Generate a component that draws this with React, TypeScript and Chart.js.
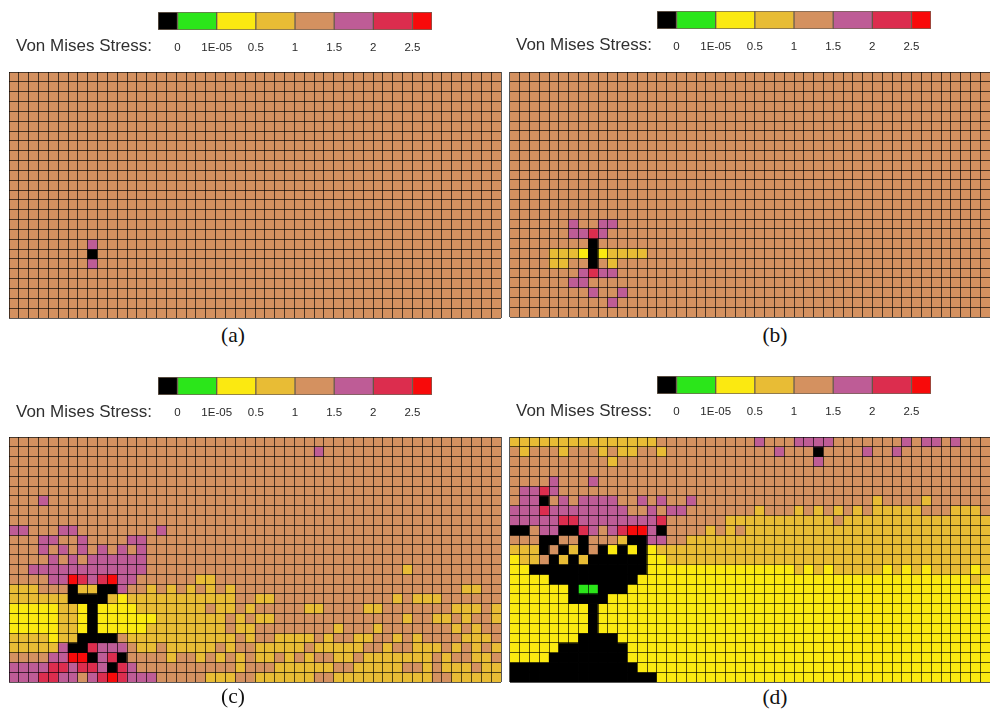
import React, { useEffect, useRef } from "react";
import { Chart, registerables } from "chart.js";

Chart.register(...registerables);

// Stress levels, lowest first
const levelKeys = ["k", "g", "y", "o", "b", "p", "c", "r"];
const levelColors = ["#000000", "#2BE61A", "#FBE911", "#E8BC35", "#D49160", "#BE5C96", "#DC2D4E", "#F80A0A"];
const legendWidths = [0.5, 1, 1, 1, 1, 1, 1, 0.5];
const legendTicks = ["0", "1E-05", "0.5", "1", "1.5", "2", "2.5"];
const legendTitle = "Von Mises Stress:";

// One string per row, top to bottom; a row's last letter repeats to its end.
const panelA = [
  "", "", "", "", "", "", "", "", "", "", "", "", "", "", "", "", "",
  "bbbbbbbbpb",
  "bbbbbbbbkb",
  "bbbbbbbbpb",
  "", "", "", "", "",
];

const panelB = [
  "", "", "", "", "", "", "", "", "", "", "", "", "", "", "",
  "bbbbbbpbbp pb",
  "bbbbbbppcp b",
  "bbbbbbbbkb",
  "bbbboooyky oooob",
  "bbbboobbkb ob",
  "bbbbbbbpcp pb",
  "bbbbbbppb",
  "bbbbbbbbpb bpb",
  "bbbbbbbbbb pb",
  "",
];

const panelC = [
  "",
  "bbbbbbbbbb bbbbbbbbbb bbbbbbbbbb bpb",
  "", "", "", "",
  "bbbpb",
  "", "",
  "ppbbbppbbb bbbbbpb",
  "bbbppbbpbb bbppb",
  "bbbpbpbpbp bpbpb",
  "bbbbpbpbpp ppppb",
  "bbpppppppp ppppbbbbbb bbbbbbbbbb bbbbbbbbbb ob",
  "bbbbpprcpc rppbbbbbbo ob",
  "ooobbbkook kpbbobobob obobbbbbbb bbbbbbbbbb bbbbbboob",
  "ooooookkkk oyoooooooo ooobboobbb bbbbbbbbbo booob",
  "yyyyyooyky yyyooooooo boobobbbbb oobbbboobb bbbbbooobo",
  "yyyyyooyky yyyyyooooo ooboboobbb bbbbbbbbbb obboobobbo",
  "yyyyyooyky yyyyoooooo ooboobbbbb bbbobbbobb bbbbbobobb",
  "ooooyookkk kboooooooo ooobobbooo obobboobbo bobbbbooob",
  "ooooopkkcp ppbooboooo obobbooooo booooobbob booobobobo",
  "bbbbpprrkp ckbbbbobbo boboboobob obbooboooo ooobobboob",
  "ppppccpccp kcpbbbbbbb bbbobbbooo ooobbooooo bboboooboo",
  "pppccppbpc rcpppbbbbb ooobbooooo obbooooooo ooobboooo",
];

const panelD = [
  "oooooooooo ooooobbbbb bbbbbpbbbp pppbbbbbbb pbppbpb",
  "bobbbobbbo boobbobbbb bbbbbbbpbb bkbbbbpbbp b",
  "bbbbbbbbbb obbbbbbbbb bbbbbbbbbb bpb",
  "",
  "bbbbpbbbpb",
  "bppcpb",
  "bppkbpbppp pbbpbpbbpb bbbbbbbbbb bbbbbbbobb bbob",
  "pppcpppppp ppbbpbppbb bbbbbobbbo bobobobooo oobbbooob",
  "pppppccppp pppppcbbbb bboooooooo ooobooooo oooooooo",
  "kkbppkkcpb pcrrpkbbbb obobooo",
  "bbbkkbbkbb bokkppbboo",
  "oookbkokbk ykykyooooo",
  "yoobkokokk kkkkyyoooo",
  "yykkkkkkkk kkkkyyyyyy yyyyyyyyyo yoyoooooyo yoyooooyo",
  "yyyykkkkkk kkkyyyyyyy yyyyyyyyyy yyyyyyyyyy yyyyyyyoy",
  "yyyyyykggk kkyyyyyyyy",
  "yyyyyykkkk yyyyyyyyyy",
  "yyyyyyyyky",
  "yyyyyyyyky",
  "yyyyyyyyky",
  "yyyyyyykkk kyyyyyyyyy",
  "yyyyykkkkk kkyyyyyyyy",
  "yyyykkkkkk kkyyyyyyyy",
  "kkkkkkkkkk kkkyyyyyyy",
  "kkkkkkkkkk kkkkkyyyyy",
];

const GRID = "rgba(0,0,0,0.66)";
const F_SANS = '"Liberation Sans", Arial, sans-serif';
const F_SERIF = '"Liberation Serif", "Times New Roman", serif';

function expandRow(text: string, cols: number): string {
  const s = text.replace(/ /g, "");
  const fill = s.length ? s[s.length - 1] : "b";
  return s.padEnd(cols, fill).slice(0, cols);
}

function GridChart({ rows, cols, left, top, width, height }: any) {
  const ref = useRef<HTMLCanvasElement>(null);
  useEffect(() => {
    const labels = Array.from({ length: cols }, (_, i) => String(i));
    const datasets = rows.map((r: string) => {
      const line = expandRow(r, cols);
      return {
        data: labels.map(() => 1),
        backgroundColor: labels.map((_, i) => levelColors[levelKeys.indexOf(line[i])]),
        borderWidth: 0,
        barPercentage: 1,
        categoryPercentage: 1,
      };
    });
    const chart = new Chart(ref.current!, {
      type: "bar",
      data: { labels, datasets },
      options: {
        animation: false,
        responsive: false,
        events: [],
        layout: { padding: 1 },
        plugins: { legend: { display: false }, tooltip: { enabled: false }, title: { display: false } },
        scales: {
          x: {
            stacked: true,
            grid: { offset: true, z: 1, color: GRID, lineWidth: 1, drawTicks: false },
            border: { display: false },
            ticks: { display: false, autoSkip: false, maxRotation: 0 },
            afterFit: (s: any) => { s.height = 0; },
          },
          y: {
            stacked: true,
            reverse: true,
            min: 0,
            max: rows.length,
            grid: { z: 1, color: GRID, lineWidth: 1, drawTicks: false },
            border: { display: false },
            ticks: { display: false, stepSize: 1, autoSkip: false },
            afterFit: (s: any) => { s.width = 0; },
          },
        },
      } as any,
    });
    return () => chart.destroy();
  }, []);
  return (
    <canvas
      ref={ref}
      width={width + 2}
      height={height + 2}
      style={{ position: "absolute", left: left - 1, top: top - 1, width: width + 2, height: height + 2, filter: "blur(0.4px)" }}
    />
  );
}

function ColorBar({ left, top, titleTop, titleLeft }: any) {
  const ref = useRef<HTMLCanvasElement>(null);
  useEffect(() => {
    const chart = new Chart(ref.current!, {
      type: "bar",
      data: {
        labels: ["stress"],
        datasets: legendWidths.map((w, i) => ({
          data: [w],
          backgroundColor: levelColors[i],
          borderColor: "rgba(70,50,30,0.75)",
          borderWidth: 1,
          borderSkipped: false,
          barPercentage: 1,
          categoryPercentage: 1,
        })),
      },
      options: {
        indexAxis: "y",
        animation: false,
        responsive: false,
        events: [],
        layout: { padding: { left: 30, right: 30, top: 0, bottom: 0 } },
        plugins: { legend: { display: false }, tooltip: { enabled: false }, title: { display: false } },
        scales: {
          x: {
            stacked: true,
            min: 0,
            max: legendTicks.length,
            grid: { display: false, drawTicks: false },
            border: { display: false },
            afterBuildTicks: (s: any) => {
              s.ticks = legendTicks.map((_, i) => ({ value: i + 0.5 }));
            },
            afterFit: (s: any) => { s.height = 28; },
            ticks: {
              autoSkip: false,
              maxRotation: 0,
              padding: 11,
              color: "#2a2a2a",
              font: { family: F_SANS, size: 11.5 },
              callback: (_: any, i: number) => legendTicks[i],
            },
          },
          y: { stacked: true, display: false },
        },
      } as any,
    });
    return () => chart.destroy();
  }, []);
  return (
    <>
      <canvas
        ref={ref}
        width={334}
        height={46}
        style={{ position: "absolute", left: left - 30, top, width: 334, height: 46, filter: "blur(0.4px)" }}
      />
      <div
        style={{
          position: "absolute",
          left: titleLeft,
          top: titleTop,
          fontFamily: F_SANS,
          fontSize: 17,
          lineHeight: "20px",
          color: "#303030",
          whiteSpace: "nowrap",
        }}
      >
        {legendTitle}
      </div>
    </>
  );
}

function Caption({ text, center, top }: any) {
  return (
    <div
      style={{
        position: "absolute",
        left: center - 30,
        width: 60,
        top,
        textAlign: "center",
        fontFamily: F_SERIF,
        fontSize: 21.5,
        lineHeight: "24px",
        color: "#111",
      }}
    >
      {text}
    </div>
  );
}

export default function App() {
  return (
    <div style={{ position: "absolute", left: 0, top: 0, width: 990, height: 711, overflow: "hidden", background: "#fff" }}>
      <ColorBar left={158} top={12} titleLeft={16} titleTop={36} />
      <GridChart rows={panelA} cols={50} left={9} top={72} width={492} height={246} />
      <Caption text="(a)" center={233} top={323} />

      <ColorBar left={657} top={11} titleLeft={516} titleTop={35} />
      <GridChart rows={panelB} cols={49} left={510} top={72} width={480} height={245} />
      <Caption text="(b)" center={775} top={323} />

      <ColorBar left={158} top={377} titleLeft={16} titleTop={402} />
      <GridChart rows={panelC} cols={50} left={9} top={437} width={492} height={245} />
      <Caption text="(c)" center={233} top={684} />

      <ColorBar left={657} top={376} titleLeft={516} titleTop={401} />
      <GridChart rows={panelD} cols={49} left={510} top={437} width={480} height={245} />
      <Caption text="(d)" center={775} top={685} />
    </div>
  );
}
